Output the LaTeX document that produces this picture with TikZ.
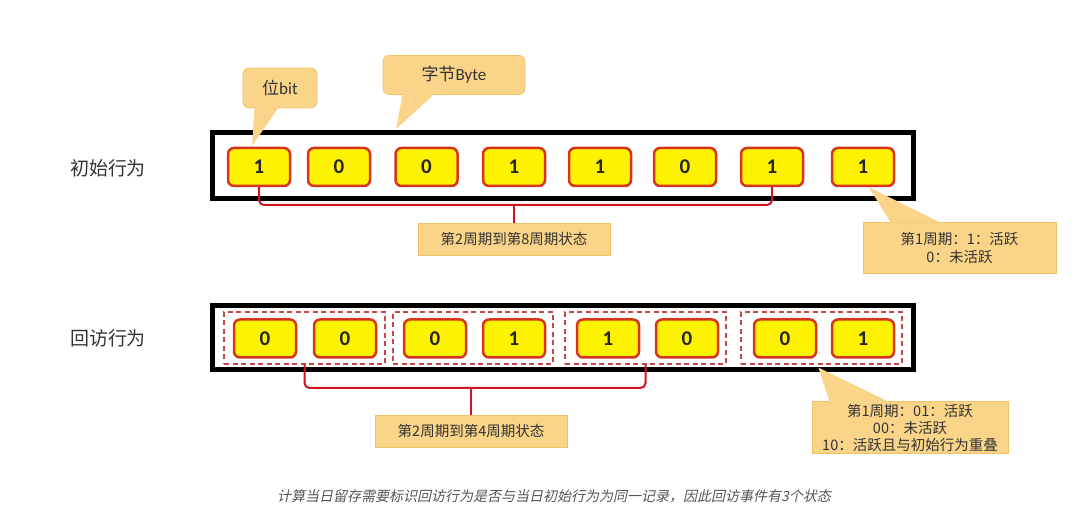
\documentclass[tikz,border=0pt]{standalone}
\usepackage{fontspec}
\setmainfont{Carlito}
\newfontfamily\cjk{Noto Sans CJK SC}
\newfontfamily\cjkit[FakeSlant=0.22]{Noto Sans CJK SC}
\usetikzlibrary{calc}
\definecolor{cellred}{HTML}{D8341C}
\definecolor{dashred}{HTML}{C4474A}
\definecolor{bracered}{HTML}{D0141E}
\definecolor{tagfill}{HTML}{FAD488}
\definecolor{tagedge}{HTML}{F2C266}
\definecolor{captgray}{HTML}{555555}
\begin{document}
\begin{tikzpicture}[x=1pt,y=-1pt,
  cell/.style={draw=cellred, fill=yellow, line width=2.5pt, rounded corners=6pt,
    minimum width=62pt, minimum height=38pt, inner sep=0pt,
    font=\bfseries\fontsize{21}{21}\selectfont, text=black!85},
  frame/.style={draw=black, line width=5pt, inner sep=0pt},
  group/.style={draw=dashred, dash pattern=on 5pt off 3.5pt, line width=1.3pt, inner sep=0pt},
  brace/.style={draw=bracered, line width=2pt, rounded corners=5pt},
  tag/.style={fill=tagfill, draw=tagedge, line width=0.6pt, align=center, inner sep=0pt,
    font=\cjk\fontsize{14.5}{18}\selectfont, text=black!80},
  bubble/.style={tag, rounded corners=6pt, font=\fontsize{17}{17}\selectfont},
  tail/.style={fill=tagfill},
  rowlabel/.style={font=\cjk\fontsize{19}{19}\selectfont, text=black!80}
]
\useasboundingbox (0,0) rectangle (1080,521);

% row labels
\node[rowlabel] (l1) at (108,168) {初始行为};
\node[rowlabel] (l2) at (108,338) {回访行为};

% frames
\node[frame, minimum width=701pt, minimum height=66pt] (topbox) at (563,165.5) {};
\node[frame, minimum width=701pt, minimum height=64.5pt] (botbox) at (563,337.75) {};

% dashed groups
\node[group, minimum width=161pt, minimum height=52pt] (g1) at (304.5,338) {};
\node[group, minimum width=160pt, minimum height=52pt] (g2) at (473,338) {};
\node[group, minimum width=161pt, minimum height=52pt] (g3) at (645.5,338) {};
\node[group, minimum width=161pt, minimum height=52pt] (g4) at (821.5,338) {};

% top cells
\node[cell] (t1) at (259,167) {1};
\node[cell] (t2) at (339,167) {0};
\node[cell] (t3) at (426.5,167) {0};
\node[cell] (t4) at (514,167) {1};
\node[cell] (t5) at (600,167) {1};
\node[cell] (t6) at (685,167) {0};
\node[cell] (t7) at (772,167) {1};
\node[cell] (t8) at (863,167) {1};

% bottom cells
\node[cell] (b1) at (265,338.5) {0};
\node[cell] (b2) at (345,338.5) {0};
\node[cell] (b3) at (435,338.5) {0};
\node[cell] (b4) at (514,338.5) {1};
\node[cell] (b5) at (608,338.5) {1};
\node[cell] (b6) at (687,338.5) {0};
\node[cell] (b7) at (785,338.5) {0};
\node[cell] (b8) at (863,338.5) {1};

% brace labels
\node[tag, minimum width=192pt, minimum height=32pt] (s1) at (514,239) {第2周期到第8周期状态};
\node[tag, minimum width=192pt, minimum height=32pt] (s2) at (471,431) {第2周期到第4周期状态};

% top brace
\coordinate (tb) at (0,205);
\draw[brace] (t1.south) -- (t1.south |- tb) -- (t7.south |- tb) -- (t7.south);
\draw[brace] (s1.north) -- (s1.north |- tb);

% bottom brace
\coordinate (bb) at (0,388);
\draw[brace] (g1.south) -- (g1.south |- bb) -- (g3.south |- bb) -- (g3.south);
\draw[brace] (s2.north) -- (s2.north |- bb);

% bubble: bit
\node[bubble, minimum width=74pt, minimum height=40pt] (bit) at (280,88) {{\cjk 位}bit};
\coordinate (bittip) at ($(t1.north)+(-7,-1)$);
\fill[tail] ($(bit.south west)+(12,-1)$) -- ($(bit.south west)+(36,-1)$) -- (bittip) -- cycle;

% bubble: byte
\node[bubble, minimum width=142pt, minimum height=39pt] (byte) at (454,75) {{\cjk 字节}Byte};
\coordinate (bytetip) at ($(topbox.north west)+(186,-1)$);
\fill[tail] ($(byte.south west)+(20,-1)$) -- ($(byte.south west)+(52,-1)$) -- (bytetip) -- cycle;

% callout 1
\node[tag, minimum width=193pt, minimum height=51pt] (c1) at (959.5,247.5) {第1周期：1：活跃\\0：未活跃};
\coordinate (c1tip) at ($(t8.south)+(6,0)$);
\fill[tail] ($(c1.north west)+(28,1)$) -- ($(c1.north west)+(78,1)$) -- (c1tip) -- cycle;

% callout 2
\node[tag, minimum width=196pt, minimum height=52pt,
  font=\cjk\fontsize{14.5}{17}\selectfont] (c2) at (910,427.5) {第1周期：01：活跃\\00：未活跃\\10：活跃且与初始行为重叠};
\coordinate (c2tip) at ($(g4.south)+(-3,3)$);
\fill[tail] ($(c2.north west)+(18,1)$) -- ($(c2.north west)+(78,1)$) -- (c2tip) -- cycle;

% caption
\node[font=\cjkit\fontsize{14}{16}\selectfont, text=captgray] (cap) at (554,496)
  {计算当日留存需要标识回访行为是否与当日初始行为为同一记录，因此回访事件有3个状态};
\end{tikzpicture}
\end{document}
